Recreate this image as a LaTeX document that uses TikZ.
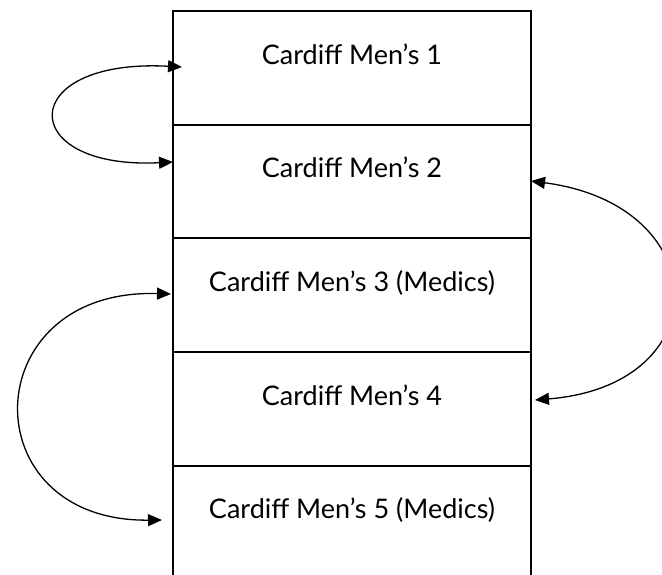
\documentclass[tikz,border=0pt]{standalone}
\usepackage{fontspec}
\setmainfont{Lato}
\usetikzlibrary{arrows.meta}
\begin{document}
\begin{tikzpicture}[x=1pt,y=-1pt,
  rowbox/.style={draw,line width=2pt,minimum width=358pt,inner sep=0pt,anchor=north},
  rowtext/.style={anchor=base,font=\fontsize{27}{31}\selectfont,inner sep=0pt},
  swap/.style={{Triangle[length=14pt,width=12pt]}-{Triangle[length=14pt,width=12pt]},line width=1.3pt}]
\useasboundingbox (0,0) rectangle (662,574);
\clip (0,0) rectangle (662,574);
\node[rowbox,minimum height=113.5pt] (r1) at (352,10) {};
\node[rowbox,minimum height=113.5pt] (r2) at (352,123.5) {};
\node[rowbox,minimum height=113.5pt] (r3) at (352,237) {};
\node[rowbox,minimum height=114pt] (r4) at (352,350.5) {};
\node[rowbox,minimum height=140pt] (r5) at (352,464.5) {};
\node[rowtext] (t1) at (352,64) {Cardiff Men’s 1};
\node[rowtext] (t2) at (352,177) {Cardiff Men’s 2};
\node[rowtext] (t3) at (352,291) {Cardiff Men’s 3 (Medics)};
\node[rowtext] (t4) at (352,405) {Cardiff Men’s 4};
\node[rowtext] (t5) at (352,518) {Cardiff Men’s 5 (Medics)};
\coordinate (a1) at (182,67);
\coordinate (a2) at (173,162);
\coordinate (b1) at (531,181);
\coordinate (b2) at (535,400);
\coordinate (c1) at (171,294);
\coordinate (c2) at (162,520);
\draw[swap] (a1) .. controls (15,58) and (15,170) .. (a2);
\draw[swap] (b1) .. controls (715,205) and (720,385) .. (b2);
\draw[swap] (c1) .. controls (-25,288) and (-30,522) .. (c2);
\end{tikzpicture}
\end{document}
